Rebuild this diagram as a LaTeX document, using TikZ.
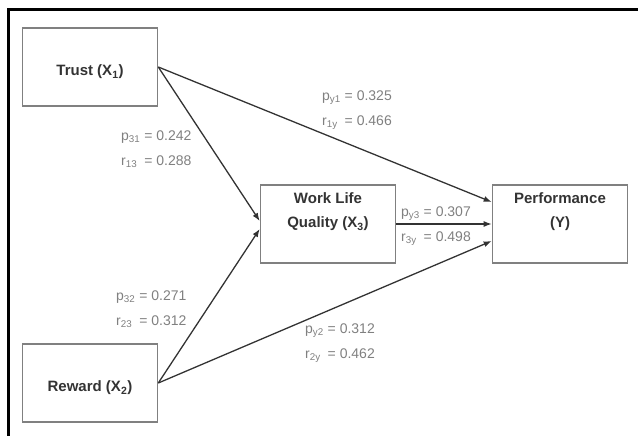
\documentclass[tikz,border=0pt]{standalone}
\usepackage{fontspec}
\setmainfont{Liberation Sans}
\usetikzlibrary{arrows.meta,positioning}
\definecolor{boxgray}{gray}{0.5}
\definecolor{namegray}{gray}{0.2}
\definecolor{coefgray}{gray}{0.5}
\definecolor{effectgray}{gray}{0.2}
\tikzset{
	box/.style={draw=boxgray, line width=1.6pt, minimum width=135pt, minimum height=78pt, inner sep=0pt},
	boxtext/.style={text=namegray, font=\fontsize{15}{24}\selectfont\bfseries, align=center, inner sep=0pt},
	coef/.style={text=coefgray, font=\fontsize{14}{25}\selectfont, anchor=west, inner sep=0pt},
	effect/.style={draw=effectgray, line width=1.3pt, -{Latex[length=8pt,width=6pt]}}
}
\begin{document}
\begin{tikzpicture}[x=1pt, y=-1pt]
			
			\useasboundingbox (0, 0) rectangle (638, 436);
			\draw [line width=3pt] (8, 436) -- (8, 9.5) -- (638, 9.5);
			
			\node [box] (trust) at (90, 67) {};
			\node [box] (wlq) at (328, 224) {};
			\node [box] (perf) at (560, 224) {};
			\node [box] (reward) at (90, 383) {};
			
			\node [boxtext] (trusttext) at (90, 72) {Trust (X\textsubscript{1})};
			\node [boxtext] (wlqtext) at (328, 212) {Work Life\\Quality (X\textsubscript{3})};
			\node [boxtext] (perftext) at (560, 212) {Performance\\(Y)};
			\node [boxtext] (rewardtext) at (90, 388) {Reward (X\textsubscript{2})};
			
			\draw [effect] (trust.east) -- ([yshift=3pt]wlq.west);
			\draw [effect] (reward.east) -- ([yshift=-5pt]wlq.west);
			\draw [effect] (trust.east) -- ([yshift=22pt]perf.west);
			\draw [effect] (wlq.east) -- (perf.west);
			\draw [effect] (reward.east) -- ([yshift=-17pt]perf.west);
			
			\node [coef] (c31) at (121, 148) {\begin{tabular}{@{}l@{ }l@{}}p\textsubscript{31} & = 0.242\\ r\textsubscript{13} & = 0.288\end{tabular}};
			\node [coef] (cy1) at (322, 108) {\begin{tabular}{@{}l@{ }l@{}}p\textsubscript{y1} & = 0.325\\ r\textsubscript{1y} & = 0.466\end{tabular}};
			\node [coef] (cy3) at (401, 224) {\begin{tabular}{@{}l@{ }l@{}}p\textsubscript{y3} & = 0.307\\ r\textsubscript{3y} & = 0.498\end{tabular}};
			\node [coef] (c32) at (116, 308) {\begin{tabular}{@{}l@{ }l@{}}p\textsubscript{32} & = 0.271\\ r\textsubscript{23} & = 0.312\end{tabular}};
			\node [coef] (cy2) at (305, 341) {\begin{tabular}{@{}l@{ }l@{}}p\textsubscript{y2} & = 0.312\\ r\textsubscript{2y} & = 0.462\end{tabular}};
			
\end{tikzpicture}
\end{document}
